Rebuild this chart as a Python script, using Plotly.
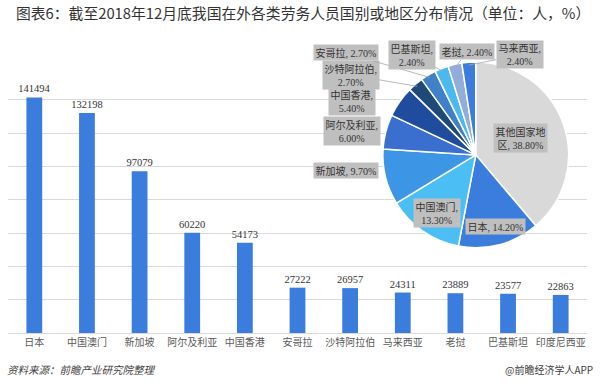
import math
import plotly.graph_objects as go

# ---------------- data ----------------
bar_categories = ["日本", "中国澳门", "新加坡", "阿尔及利亚", "中国香港", "安哥拉",
                  "沙特阿拉伯", "马来西亚", "老挝", "巴基斯坦", "印度尼西亚"]
bar_values = [141494, 132198, 97079, 60220, 54173, 27222, 26957, 24311, 23889, 23577, 22863]

pie_names = ["其他国家地区", "日本", "中国澳门", "新加坡", "阿尔及利亚", "中国香港",
             "沙特阿拉伯", "安哥拉", "巴基斯坦", "老挝", "马来西亚"]
pie_pct = [38.80, 14.20, 13.30, 9.70, 6.00, 5.40, 2.70, 2.70, 2.40, 2.40, 2.40]

title_text = "图表6：截至2018年12月底我国在外各类劳务人员国别或地区分布情况（单位：人，%）"
source_text = "资料来源：前瞻产业研究院整理"
credit_text = "@前瞻经济学人APP"

# ---------------- styles / layout ----------------
W, H = 600, 390
ML, MR, MT, MB = 7.6, 12.6, 40.0, 56.7
PLOT_L, PLOT_R = ML, W - MR
PLOT_T, PLOT_B = MT, H - MB
BAR_TOP = 83.3  # pixel y of the top of the bar axis


def px(X):
    return (X - PLOT_L) / (PLOT_R - PLOT_L)


def py(Y):
    return (PLOT_B - Y) / (PLOT_B - PLOT_T)


bar_color = "#3b7ddd"
pie_colors = ["#d9d9d9", "#3b7ddd", "#4bbef4", "#3d95e5", "#3a6fcf", "#1f4c9c",
              "#1f4a78", "#3f80c8", "#4ab9ef", "#94acda", "#3b7ddd"]

# pie placement in pixels
PCX, PCY, PR = 476.0, 155.0, 93.0

# label box centres (pixels) and line break style, per pie slice
label_pos = [(521, 138), (496, 227), (437, 213), (346, 171), (352, 131), (352, 101),
             (351, 75), (346, 53), (412, 55), (467, 52), (520, 55)]
label_sep = ["<br>", " ", "<br>", " ", "<br>", "<br>", "<br>", " ", "<br>", " ", "<br>"]
label_leader = [False, False, False, False, False, False, True, True, True, True, True]

serif_cjk = "Times New Roman, Liberation Serif, Noto Sans CJK SC"
sans_cjk = "Noto Sans CJK SC"

fig = go.Figure()

fig.add_trace(go.Bar(
    x=bar_categories, y=bar_values,
    marker=dict(color=bar_color, line=dict(width=0)),
    text=[str(v) for v in bar_values], textposition="outside", constraintext="none",
    textfont=dict(family=serif_cjk, size=10.5, color="#333333"),
    cliponaxis=False, width=0.3, showlegend=False, hoverinfo="skip",
))

fig.add_trace(go.Pie(
    labels=pie_names, values=pie_pct, sort=False, direction="clockwise", rotation=0,
    marker=dict(colors=pie_colors, line=dict(color="white", width=1.5)),
    textinfo="none", hoverinfo="skip", showlegend=False,
    domain=dict(x=[px(PCX - PR), px(PCX + PR)], y=[py(PCY + PR), py(PCY - PR)]),
))

annotations = []

# pie labels
total = sum(pie_pct)
cum = 0.0
for i, (name, p) in enumerate(zip(pie_names, pie_pct)):
    mid = (cum + p / 2) / total * 2 * math.pi
    cum += p
    if name == "其他国家地区":
        text = f"其他国家地<br>区, {p:.2f}%"
    else:
        text = f"{name},{label_sep[i]}{p:.2f}%"
    lx, ly = label_pos[i]
    if label_leader[i]:
        ex = PCX + PR * 0.97 * math.sin(mid)
        ey = PCY - PR * 0.97 * math.cos(mid)
        annotations.append(dict(
            x=px(ex), y=py(ey), xref="paper", yref="paper",
            ax=lx - ex, ay=ly - ey, axref="pixel", ayref="pixel",
            showarrow=True, arrowhead=0, arrowwidth=0.8, arrowcolor="#a6a6a6", standoff=0,
            text=text, bgcolor="#bfbfbf", borderpad=1.5,
            font=dict(family=serif_cjk, size=10, color="#333333"), align="center",
        ))
    else:
        annotations.append(dict(
            x=px(lx), y=py(ly), xref="paper", yref="paper", showarrow=False,
            xanchor="center", yanchor="middle",
            text=text, bgcolor="#bfbfbf", borderpad=1.5,
            font=dict(family=serif_cjk, size=10, color="#333333"), align="center",
        ))

annotations.append(dict(
    x=px(14), y=py(12), xref="paper", yref="paper", showarrow=False,
    xanchor="left", yanchor="middle", text=title_text,
    font=dict(family=sans_cjk, size=14.8, color="#333333"),
))
annotations.append(dict(
    x=px(5), y=py(370), xref="paper", yref="paper", showarrow=False,
    xanchor="left", yanchor="middle", text=source_text,
    font=dict(family=sans_cjk, size=10.5, color="#404040", style="italic"),
))
annotations.append(dict(
    x=px(595), y=py(370), xref="paper", yref="paper", showarrow=False,
    xanchor="right", yanchor="middle", text=credit_text,
    font=dict(family=sans_cjk, size=10, color="#404040"),
))

fig.update_layout(
    width=W, height=H,
    margin=dict(l=ML, r=MR, t=MT, b=MB, pad=0),
    paper_bgcolor="white", plot_bgcolor="white",
    bargap=0.7,
    xaxis=dict(
        showline=True, linecolor="#d9d9d9", linewidth=1, ticks="",
        tickfont=dict(family="Noto Sans CJK SC", size=10, color="#595959"),
        showgrid=False, fixedrange=True,
    ),
    yaxis=dict(
        range=[0, 150000], dtick=20000, showgrid=True, gridcolor="#d9d9d9", gridwidth=1,
        showticklabels=False, zeroline=False, showline=False, ticks="",
        domain=[0, py(BAR_TOP)], fixedrange=True,
    ),
    annotations=annotations,
)

fig.write_html("out.html", config={"displayModeBar": False},
               post_script="document.body.style.margin='0';")
